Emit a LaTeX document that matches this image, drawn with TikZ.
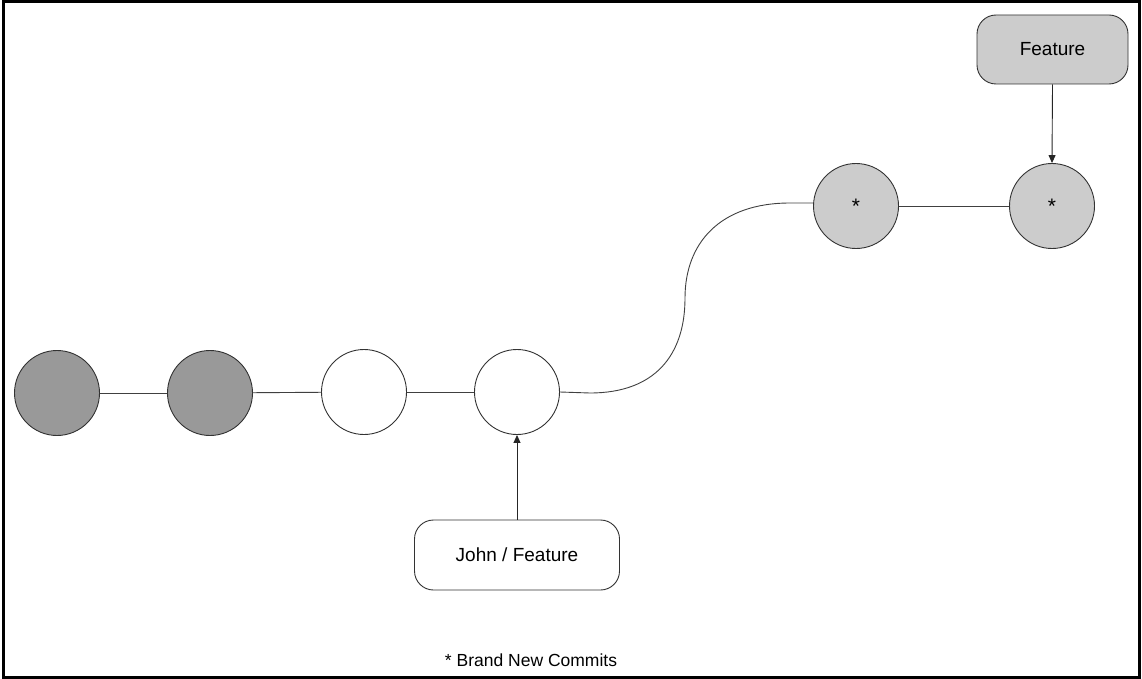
\documentclass[tikz,border=0pt]{standalone}
\usepackage{fontspec}
\setmainfont{Liberation Sans}
\usetikzlibrary{arrows.meta}
\definecolor{darkc}{HTML}{999999}
\definecolor{lightc}{HTML}{CCCCCC}
\begin{document}
\begin{tikzpicture}[x=1pt,y=-1pt,
  commit/.style={circle,draw=black!80,line width=0.9pt,minimum size=85pt,inner sep=0pt,font=\fontsize{21}{22}\selectfont},
  branchbox/.style={rectangle,rounded corners=19pt,draw=black!80,line width=0.9pt,minimum width=205pt,minimum height=70pt,font=\fontsize{19}{22}\selectfont},
  link/.style={draw=black!75,line width=0.9pt},
  pointer/.style={draw=black!85,line width=0.9pt,-{Triangle[length=8pt,width=7pt]}}]
\useasboundingbox (0,0) rectangle (1142,679);
\draw[line width=3pt] (3,2) rectangle (1139,677);
\node[commit,fill=darkc] (c1) at (57,393) {};
\node[commit,fill=darkc] (c2) at (210,393) {};
\node[commit,fill=white] (c3) at (364,392) {};
\node[commit,fill=white] (c4) at (517,392) {};
\node[commit,fill=lightc] (c5) at (856,206) {*};
\node[commit,fill=lightc] (c6) at (1052,206) {*};
\node[branchbox,fill=white] (jf) at (517,555) {John / Feature};
\node[branchbox,fill=lightc,minimum width=151pt,minimum height=69pt] (ft) at (1052.5,49.5) {Feature};
\node[font=\fontsize{17.5}{20}\selectfont] (cap) at (531,660) {* Brand New Commits};
\coordinate (k1) at (590,393);
\coordinate (k2) at (790,203);
\path[link] (c1) -- (c2);
\path[link] (c2) -- (c3);
\path[link] (c3) -- (c4);
\path[link] (c5) -- (c6);
\path[link] (c4.east) -- (k1) .. controls (655,393) and (685,355) .. (685,298) .. controls (685,243) and (720,203) .. (k2) -- (c5.west |- k2);
\path[pointer] (jf.north) -- (c4.south);
\path[pointer] (ft.south) -- (c6.north);
\end{tikzpicture}
\end{document}
